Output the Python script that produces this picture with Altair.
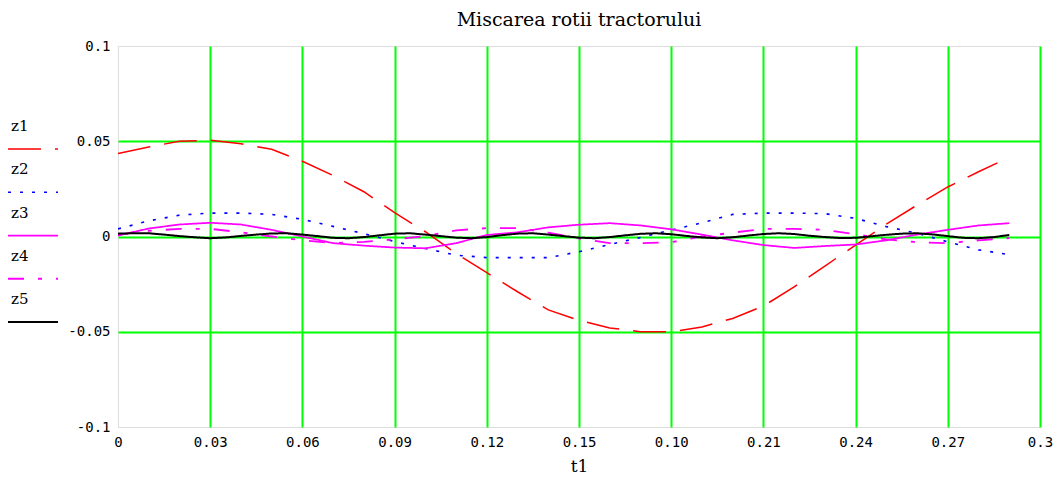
import altair as alt
import pandas as pd

# ---------------- data ----------------
series_names = ["z1", "z2", "z3", "z4", "z5"]
series_colors = ["#ff0000", "#0000ff", "#ff00ff", "#ff00ff", "#000000"]
series_dashes = [[33, 14], [3, 9], [1, 0], [16, 14, 4, 14], [1, 0]]
series_widths = [1.5, 2, 1.5, 1.5, 1.6]

t_main = [0.00, 0.01, 0.02, 0.03, 0.04, 0.05, 0.06, 0.07, 0.08, 0.09,
          0.10, 0.11, 0.12, 0.13, 0.14, 0.15, 0.16, 0.17, 0.18, 0.19,
          0.20, 0.21, 0.22, 0.23, 0.24, 0.25, 0.26, 0.27, 0.28, 0.29]

z1 = [0.0435, 0.0470, 0.0500, 0.0505, 0.0487, 0.0458, 0.0395, 0.0320, 0.0235, 0.0125,
      0.0025, -0.0089, -0.0190, -0.0290, -0.0385, -0.0440, -0.0480, -0.0500, -0.0500, -0.0475,
      -0.0430, -0.0365, -0.0265, -0.0155, -0.0045, 0.0065, 0.0165, 0.0260, 0.0340, 0.0415]

z2 = [0.0040, 0.0082, 0.0112, 0.0123, 0.0123, 0.0116, 0.0090, 0.0053, 0.0015, -0.0027,
      -0.0063, -0.0098, -0.0111, -0.0111, -0.0111, -0.0080, -0.0042, -0.0005, 0.0034, 0.0072,
      0.0116, 0.0123, 0.0123, 0.0120, 0.0095, 0.0052, 0.0017, -0.0028, -0.0070, -0.0095]

z3 = [0.0005, 0.0042, 0.0063, 0.0072, 0.0063, 0.0035, 0.0000, -0.0035, -0.0048, -0.0058,
      -0.0062, -0.0035, 0.0008, 0.0022, 0.0048, 0.0062, 0.0070, 0.0058, 0.0038, 0.0010,
      -0.0020, -0.0045, -0.0060, -0.0050, -0.0042, -0.0020, 0.0010, 0.0035, 0.0058, 0.0070]

z4 = [0.0010, 0.0030, 0.0040, 0.0040, 0.0022, 0.0000, -0.0020, -0.0035, -0.0028, -0.0015,
      0.0002, 0.0032, 0.0044, 0.0044, 0.0020, -0.0010, -0.0035, -0.0035, -0.0030, 0.0000,
      0.0020, 0.0040, 0.0040, 0.0035, 0.0012, -0.0015, -0.0030, -0.0035, -0.0020, -0.0008]

t_fine = [0.000, 0.005, 0.010, 0.015, 0.020, 0.025, 0.030, 0.035, 0.040, 0.045,
          0.050, 0.055, 0.060, 0.065, 0.070, 0.075, 0.080, 0.085, 0.090, 0.095,
          0.100, 0.105, 0.110, 0.115, 0.120, 0.125, 0.130, 0.135, 0.140, 0.145,
          0.150, 0.155, 0.160, 0.165, 0.170, 0.175, 0.180, 0.185, 0.190, 0.195,
          0.200, 0.205, 0.210, 0.215, 0.220, 0.225, 0.230, 0.235, 0.240, 0.245,
          0.250, 0.255, 0.260, 0.265, 0.270, 0.275, 0.280, 0.285, 0.290]

z5 = [0.0015, 0.0017, 0.0017, 0.0010, 0.0002, -0.0004, -0.0009, -0.0005, 0.0003, 0.0010,
      0.0016, 0.0017, 0.0010, 0.0002, -0.0007, -0.0009, -0.0003, 0.0006, 0.0015, 0.0017,
      0.0010, 0.0002, -0.0006, -0.0009, -0.0003, 0.0007, 0.0015, 0.0017, 0.0010, 0.0002,
      -0.0006, -0.0009, -0.0003, 0.0006, 0.0014, 0.0017, 0.0012, 0.0003, -0.0005, -0.0009,
      -0.0004, 0.0005, 0.0013, 0.0017, 0.0013, 0.0004, -0.0003, -0.0008, -0.0007, 0.0001,
      0.0009, 0.0015, 0.0017, 0.0011, 0.0002, -0.0007, -0.0009, -0.0003, 0.0008]

x_tick_values = [0, 0.03, 0.06, 0.09, 0.12, 0.15, 0.18, 0.21, 0.24, 0.27, 0.3]
x_tick_labels = ["0", "0.03", "0.06", "0.09", "0.12", "0.15", "0.10", "0.21", "0.24", "0.27", "0.3"]
y_tick_values = [-0.1, -0.05, 0, 0.05, 0.1]
y_tick_labels = ["-0.1", "-0.05", "0", "0.05", "0.1"]

title_text = "Miscarea rotii tractorului"
x_title = "t1"

# ---------------- build table ----------------
rows = []
for name, vals in zip(series_names[:4], [z1, z2, z3, z4]):
    for t, v in zip(t_main, vals):
        rows.append({"t": t, "value": v, "series": name})
for t, v in zip(t_fine, z5):
    rows.append({"t": t, "value": v, "series": "z5"})
df = pd.DataFrame(rows)
leg_df = pd.DataFrame({"series": series_names})

TICK_FONT = "DejaVu Sans Mono"
SERIF = "DejaVu Serif"

def js_list(items):
    return "[" + ",".join("'" + s + "'" for s in items) + "]"

x_label_expr = js_list(x_tick_labels) + "[round(datum.value / 0.03)]"
y_label_expr = js_list(y_tick_labels) + "[round((datum.value + 0.1) / 0.05)]"

color_scale = alt.Scale(domain=series_names, range=series_colors)
dash_scale = alt.Scale(domain=series_names, range=series_dashes)
width_scale = alt.Scale(domain=series_names, range=series_widths)

lines = alt.Chart(df).mark_line(strokeCap="butt", clip=True).encode(
    x=alt.X(
        "t:Q",
        scale=alt.Scale(domain=[0, 0.3], nice=False, zero=False),
        axis=alt.Axis(
            values=x_tick_values, labelExpr=x_label_expr, title=x_title,
            grid=True, gridColor="#00ff00", gridWidth=2,
            gridOpacity={"condition": {"test": "datum.value < 0.001", "value": 0}, "value": 1},
            ticks=False, domain=False, labelFlush=False, labelOverlap=False,
            labelFont=TICK_FONT, labelFontSize=14, labelColor="black", labelPadding=8,
            titleFont=SERIF, titleFontSize=17, titleFontWeight="normal",
            titleColor="black", titlePadding=9,
        ),
    ),
    y=alt.Y(
        "value:Q",
        scale=alt.Scale(domain=[-0.1, 0.1], nice=False, zero=False),
        axis=alt.Axis(
            values=y_tick_values, labelExpr=y_label_expr, title=None,
            grid=True, gridColor="#00ff00", gridWidth=2,
            gridOpacity={"condition": {"test": "abs(datum.value) > 0.09", "value": 0}, "value": 1},
            ticks=False, domain=False, labelOverlap=False, labelFlush=False,
            labelFont=TICK_FONT, labelFontSize=14, labelColor="black", labelPadding=8,
        ),
    ),
    color=alt.Color("series:N", scale=color_scale, legend=None),
    strokeDash=alt.StrokeDash("series:N", scale=dash_scale, legend=None),
    strokeWidth=alt.StrokeWidth("series:N", scale=width_scale, legend=None),
)

leg_y = alt.Y("series:N", scale=alt.Scale(type="point", domain=series_names,
                                          range=[103, 276], padding=0), axis=None)

leg_rules = alt.Chart(leg_df).mark_rule(strokeCap="butt").encode(
    x=alt.value(-110), x2=alt.value(-60), y=leg_y,
    color=alt.Color("series:N", scale=color_scale, legend=None),
    strokeDash=alt.StrokeDash("series:N", scale=dash_scale, legend=None),
    strokeWidth=alt.StrokeWidth("series:N", scale=width_scale, legend=None),
)

leg_text = alt.Chart(leg_df).mark_text(
    align="left", baseline="middle", dy=-23, font=SERIF, fontSize=15, color="black"
).encode(x=alt.value(-107), y=leg_y, text="series:N")

chart = alt.layer(lines, leg_rules, leg_text).resolve_scale(y="independent").properties(
    width=922, height=381,
    padding={"left": 110, "top": 38, "right": 14, "bottom": 51},
    autosize=alt.AutoSizeParams(type="none"),
    title=alt.TitleParams(title_text, font=SERIF, fontSize=19, fontWeight="normal",
                          anchor="middle", color="black", offset=9),
).configure_view(stroke="black", strokeWidth=2).configure(background="white")

chart.save("out.html", embed_options={"renderer": "svg", "actions": False})
